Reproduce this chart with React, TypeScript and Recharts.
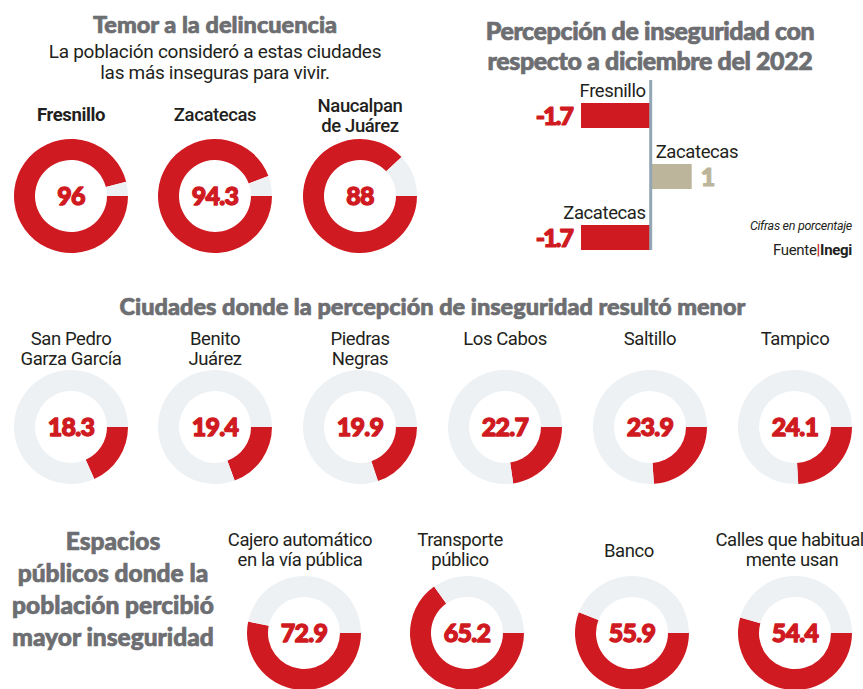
import React from 'react';
import { PieChart, Pie, Cell, BarChart, Bar, XAxis, YAxis, ReferenceLine } from 'recharts';

// ---- data ----
const fearCities = ['Fresnillo', 'Zacatecas', 'Naucalpan\nde Juárez'];
const fearValues = [96, 94.3, 88];

const lowCities = ['San Pedro\nGarza García', 'Benito\nJuárez', 'Piedras\nNegras', 'Los Cabos', 'Saltillo', 'Tampico'];
const lowValues = [18.3, 19.4, 19.9, 22.7, 23.9, 24.1];

const spaceNames = ['Cajero automático\nen la vía pública', 'Transporte\npúblico', 'Banco', 'Calles que habitual-\nmente usan'];
const spaceValues = [72.9, 65.2, 55.9, 54.4];
// share of the ring that the reference actually paints red (the first ring is drawn at about 53 %)
const spaceArcs = [53.2, 65.2, 55.9, 54.4];

const changeCities = ['Fresnillo', 'Zacatecas', 'Zacatecas'];
const changeValues = [-1.7, 1, -1.7];
const changeLabels = ['-1.7', '1', '-1.7'];

// ---- styles ----
const RED = '#D01A21';
const RING = '#EDF1F4';
const TAN = '#BDB59B';
const TITLE = '#6D6E71';
const INK = '#231F20';
const AXIS = '#93A6B3';
const FONT = 'Roboto, "Noto Sans", sans-serif';
const HEAVY = 'Lato, Roboto, sans-serif';

const fearX = [71, 215, 360];
const fearY = 196;
const lowX = [71, 215, 360, 505, 650, 795];
const lowY = 427;
const spaceX = [304, 467, 632, 795];
const spaceY = 633;

function Donut({ cx, cy, share }: { cx: number; cy: number; share: number }) {
  const data = [
    { k: 'share', v: share },
    { k: 'rest', v: 100 - share },
  ];
  return (
    <div style={{ position: 'absolute', left: cx - 60, top: cy - 60, width: 120, height: 120 }}>
      <PieChart width={120} height={120} margin={{ top: 0, right: 0, bottom: 0, left: 0 }}>
        <Pie
          data={data}
          dataKey="v"
          nameKey="k"
          cx={60}
          cy={60}
          innerRadius={36}
          outerRadius={57}
          startAngle={0}
          endAngle={-360}
          stroke="none"
          isAnimationActive={false}
        >
          <Cell fill={RED} />
          <Cell fill={RING} />
        </Pie>
      </PieChart>
    </div>
  );
}

function Lines({ x, y, text, size, weight, fill, gap, spacing, family, thick }: any) {
  const parts = String(text).split('\n');
  return (
    <text
      x={x}
      y={y}
      textAnchor="middle"
      fontSize={size}
      fontWeight={weight}
      fill={fill}
      fontFamily={family ?? FONT}
      letterSpacing={spacing ?? 0}
      stroke={thick ? fill : 'none'}
      strokeWidth={thick ?? 0}
      strokeLinejoin="round"
    >
      {parts.map((p, i) => (
        <tspan key={i} x={x} y={y + i * gap}>
          {p}
        </tspan>
      ))}
    </text>
  );
}

const changeData = changeCities.map((name, i) => ({ name, v: changeValues[i], label: changeLabels[i] }));

function ChangeBar(props: any) {
  const { x, y, width, height, payload } = props;
  const left = Math.min(x, x + width);
  const w = Math.abs(width);
  const neg = payload.v < 0;
  const fill = neg ? RED : TAN;
  return (
    <g>
      <rect x={left} y={y} width={w} height={height} fill={fill} />
      {neg ? (
        <>
          <text x={left + w - 5} y={y - 6} textAnchor="end" fontSize={18.5} fill={INK} fontFamily={FONT} letterSpacing={-0.4}>
            {payload.name}
          </text>
          <text x={left - 9} y={y + height / 2 + 9} textAnchor="end" fontSize={25} fontWeight={900} fill={RED} stroke={RED} strokeWidth={1.2} strokeLinejoin="round" fontFamily={HEAVY} letterSpacing={-2}>
            {payload.label}
          </text>
        </>
      ) : (
        <>
          <text x={left + 5} y={y - 6} textAnchor="start" fontSize={18.5} fill={INK} fontFamily={FONT} letterSpacing={-0.4}>
            {payload.name}
          </text>
          <text x={left + w + 9} y={y + height / 2 + 9} textAnchor="start" fontSize={25} fontWeight={900} fill={TAN} stroke={TAN} strokeWidth={1.2} strokeLinejoin="round" fontFamily={HEAVY}>
            {payload.label}
          </text>
        </>
      )}
    </g>
  );
}

export default function App() {
  return (
    <div
      style={{
        position: 'absolute',
        left: 0,
        top: 0,
        width: 863,
        height: 689,
        overflow: 'hidden',
        background: '#fff',
        fontFamily: FONT,
      }}
    >
      {fearValues.map((v, i) => (
        <Donut key={'f' + i} cx={fearX[i]} cy={fearY} share={v} />
      ))}
      {lowValues.map((v, i) => (
        <Donut key={'l' + i} cx={lowX[i]} cy={lowY} share={v} />
      ))}
      {spaceArcs.map((v, i) => (
        <Donut key={'s' + i} cx={spaceX[i]} cy={spaceY} share={v} />
      ))}

      <div style={{ position: 'absolute', left: 480, top: 0 }}>
        <BarChart
          width={383}
          height={280}
          layout="vertical"
          data={changeData}
          margin={{ top: 80, right: 130.3, bottom: 30, left: 88.7 }}
        >
          <XAxis type="number" domain={[-2, 2]} hide />
          <YAxis type="category" hide padding={{ top: 5, bottom: -18 }} />
          <ReferenceLine x={0} stroke={AXIS} strokeWidth={3} />
          <Bar dataKey="v" barSize={25} shape={<ChangeBar />} isAnimationActive={false} />
        </BarChart>
      </div>

      <svg width={863} height={689} style={{ position: 'absolute', left: 0, top: 0, pointerEvents: 'none' }}>
        <Lines x={215} y={33} text="Temor a la delincuencia" size={23.5} weight={900} fill={TITLE} gap={0} spacing={0} family={HEAVY} thick={0.7} />
        <Lines x={215} y={58} text={'La población consideró a estas ciudades\nlas más inseguras para vivir.'} size={19} weight={400} fill={INK} gap={20.5} spacing={-0.3} />
        {fearCities.map((c, i) => (
          <Lines
            key={'fc' + i}
            x={fearX[i]}
            y={c.includes('\n') ? 112 : 121}
            text={c}
            size={18.5}
            weight={i === 0 ? 700 : 500}
            fill={INK}
            gap={20}
            spacing={-0.4}
          />
        ))}
        {fearValues.map((v, i) => (
          <Lines key={'fv' + i} x={fearX[i]} y={fearY + 8.5} text={String(v)} size={25} weight={900} fill={RED} gap={0} spacing={-0.8} family={HEAVY} thick={1.3} />
        ))}

        <Lines x={650} y={40} text={'Percepción de inseguridad con\nrespecto a diciembre del 2022'} size={25} weight={900} fill={TITLE} gap={30} spacing={-0.4} family={HEAVY} thick={0.7} />
        <text x={852} y={230} textAnchor="end" fontSize={12.5} fontStyle="italic" fill={INK} fontFamily={FONT} letterSpacing={-0.3}>
          Cifras en porcentaje
        </text>
        <text x={852} y={255} textAnchor="end" fontSize={15} fill={INK} fontFamily={FONT} letterSpacing={-0.3}>
          Fuente<tspan fill={RED} fontWeight={700}>|</tspan>
          <tspan fontWeight={700}>Inegi</tspan>
        </text>

        <Lines x={432.5} y={315} text="Ciudades donde la percepción de inseguridad resultó menor" size={23.5} weight={900} fill={TITLE} gap={0} spacing={0} family={HEAVY} thick={0.7} />
        {lowCities.map((c, i) => (
          <Lines key={'lc' + i} x={lowX[i]} y={345} text={c} size={18.5} weight={400} fill={INK} gap={20} spacing={-0.4} />
        ))}
        {lowValues.map((v, i) => (
          <Lines key={'lv' + i} x={lowX[i]} y={lowY + 8.5} text={String(v)} size={25} weight={900} fill={RED} gap={0} spacing={-0.8} family={HEAVY} thick={1.3} />
        ))}

        <Lines x={113} y={550} text={'Espacios\npúblicos donde la\npoblación percibió\nmayor inseguridad'} size={24.5} weight={900} fill={TITLE} gap={32} spacing={0} family={HEAVY} thick={0.7} />
        {spaceNames.map((c, i) => (
          <Lines
            key={'sc' + i}
            x={[300, 460, 629, 792][i]}
            y={c.includes('\n') ? 546 : 557}
            text={c}
            size={18.5}
            weight={400}
            fill={INK}
            gap={20}
            spacing={-0.4}
          />
        ))}
        {spaceValues.map((v, i) => (
          <Lines key={'sv' + i} x={spaceX[i]} y={spaceY + 8.5} text={String(v)} size={25} weight={900} fill={RED} gap={0} spacing={-0.8} family={HEAVY} thick={1.3} />
        ))}
      </svg>
    </div>
  );
}
